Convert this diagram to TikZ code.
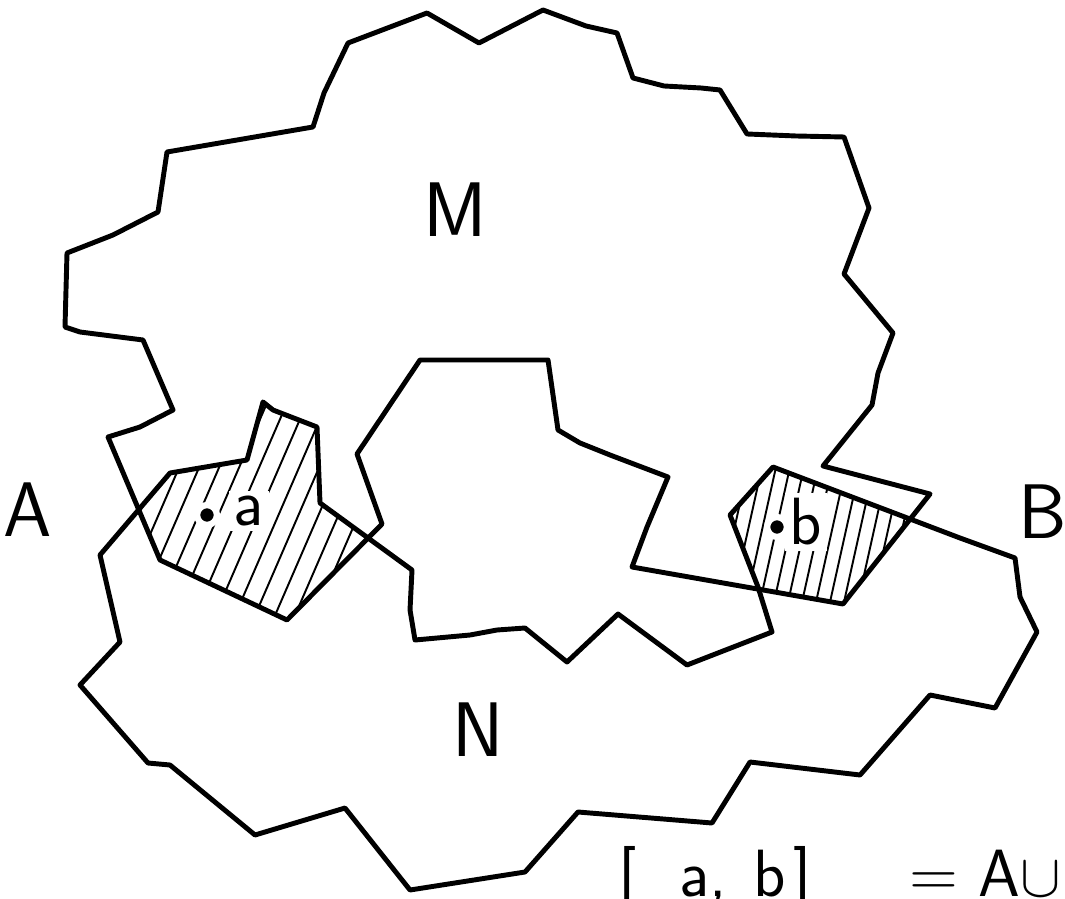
\documentclass[tikz,border=0pt]{standalone}
\usepackage{amsmath,amssymb}
\usetikzlibrary{positioning}

\begin{document}
\begin{tikzpicture}[x=0.01cm,y=-0.01cm,
    edge/.style={line width=1.4pt,line join=round},
    hatch/.style={line width=0.55pt},
    pt/.style={circle,fill=black,draw=white,line width=1.8pt,inner sep=2pt},
    big/.style={font=\sffamily\fontsize{22}{26}\selectfont,inner sep=0pt},
    eq/.style={font=\sffamily\fontsize{19}{22}\selectfont,inner sep=0pt},
    small/.style={font=\sffamily\fontsize{19}{22}\selectfont,inner sep=1.5pt,fill=white}]
  \useasboundingbox (0,0) rectangle (1065,898);
  \def\pathM{(427,13) -- (479,43) -- (543,10) -- (586,26) -- (617,33) -- (633,78)
    -- (664,86) -- (701,88) -- (720,90) -- (747,134) -- (796,136) -- (844,137)
    -- (869,208) -- (844,274) -- (893,333) -- (878,373) -- (872,405) -- (823,466)
    -- (930,494) -- (843,604) -- (632,567) -- (647,527) -- (668,477) -- (610,455)
    -- (580,443) -- (558,430) -- (548,360) -- (420,360) -- (357,454) -- (382,524)
    -- (287,620) -- (160,560) -- (108,437) -- (140,427) -- (173,410) -- (143,340)
    -- (80,332) -- (65,327) -- (67,253) -- (113,235) -- (158,212) -- (167,152)
    -- (313,127) -- (324,93) -- (348,43) -- cycle}
  \def\pathN{(170,473) -- (247,460) -- (263,402) -- (273,410) -- (317,427)
    -- (320,503) -- (412,570) -- (410,610) -- (415,640) -- (470,635) -- (497,630)
    -- (525,628) -- (567,662) -- (618,614) -- (687,665) -- (772,632) -- (758,587)
    -- (730,515) -- (773,467) -- (910,519) -- (960,538) -- (1015,558) -- (1020,597)
    -- (1037,632) -- (995,708) -- (930,695) -- (860,775) -- (750,762) -- (712,823)
    -- (578,812) -- (525,872) -- (410,890) -- (345,808) -- (255,835) -- (170,765)
    -- (148,763) -- (80,685) -- (120,642) -- (100,555) -- cycle}
  \begin{scope}
    \clip \pathM;
    \clip \pathN;
    \foreach \x in {60,80,...,380}
      \draw[hatch] (\x,650) -- ++(130,-300);
    \foreach \x in {700,714,...,900}
      \draw[hatch] (\x,620) -- ++(40,-180);
  \end{scope}
  \draw[edge] \pathM;
  \draw[edge] \pathN;
  \node[pt] (pa) at (207,515) {};
  \node[small] (la) at (249,511) {a};
  \node[pt] (pb) at (777,527) {};
  \node[small] (lb) at (806,522) {b};
  \node[big] (lM) at (455,210) {M};
  \node[big] (lN) at (478,730) {N};
  \node[big] (lA) at (28,510) {A};
  \node[big] (lB) at (1043,512) {B};
  \node[eq,anchor=base west] (eqn) at (618,896)
    {[\kern.64em a,\kern.39em b\kern.12em]\hspace{1.46em}=\hspace{0.3em}A$\cup$};
\end{tikzpicture}
\end{document}
